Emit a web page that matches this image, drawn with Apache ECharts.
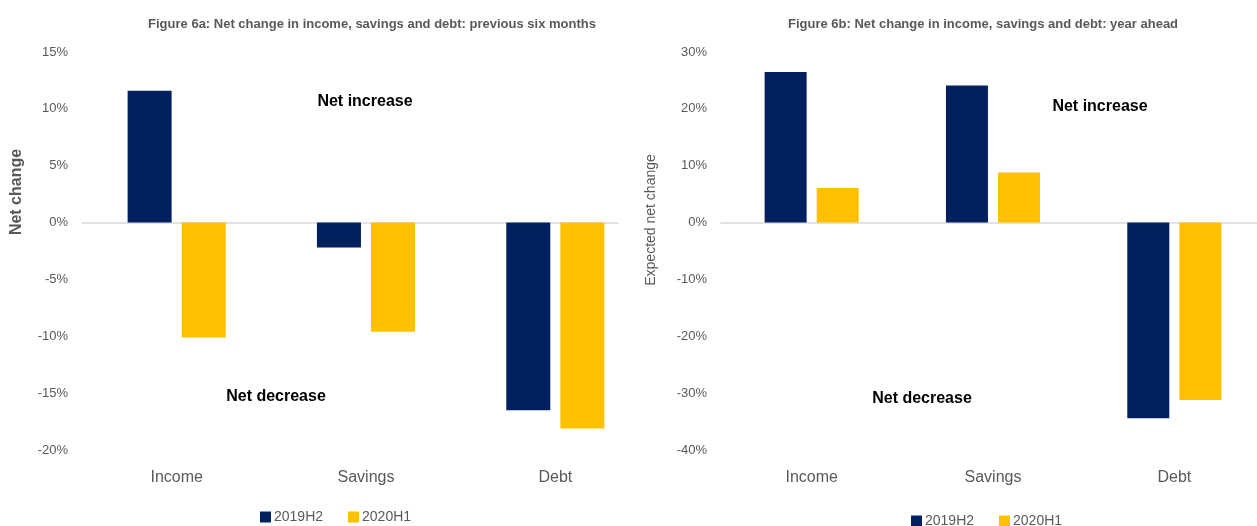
<!DOCTYPE html>
<html>
<head>
<meta charset="utf-8">
<script src="https://cdn.jsdelivr.net/npm/echarts@6/dist/echarts.min.js"></script>
<style>
  html, body { margin: 0; padding: 0; background: #ffffff; overflow: hidden; }
  /* the year-ahead panel's plot runs a little past the right edge of the page */
  #chart { width: 1270px; height: 526px; }
</style>
</head>
<body>
<div id="chart"></div>
<script>
// Categories and series
const categories = ['Income', 'Savings', 'Debt'];
const seriesNames = ['2019H2', '2020H1'];

// Figure 6a: net change over the previous six months (%)
const prevSixMonths2019H2 = [11.6, -2.2, -16.5];
const prevSixMonths2020H1 = [-10.1, -9.6, -18.1];

// Figure 6b: expected net change over the year ahead (%)
const yearAhead2019H2 = [26.5, 24.1, -34.4];
const yearAhead2020H1 = [6.1, 8.8, -31.2];

// Value axis ranges
const prevAxis = { min: -20, max: 15, interval: 5 };
const aheadAxis = { min: -40, max: 30, interval: 10 };

const NAVY = '#002060';
const GOLD = '#FFC000';
const GREY_TEXT = '#595959';
const FONT = "'Liberation Sans', Arial, sans-serif";

const chart = echarts.init(document.getElementById('chart'), null, { renderer: 'canvas' });

function valueAxis(gridIndex, range) {
  return {
    type: 'value', gridIndex,
    min: range.min, max: range.max, interval: range.interval,
    axisLine: { show: false }, axisTick: { show: false }, splitLine: { show: false },
    axisLabel: { formatter: '{value}%', color: GREY_TEXT, fontSize: 13, fontFamily: FONT, margin: 14 }
  };
}

function barSeries(name, data, axisIndex, width, gap) {
  return {
    name, type: 'bar', data,
    xAxisIndex: axisIndex, yAxisIndex: axisIndex,
    barWidth: width, barGap: gap,
    itemStyle: { color: name === seriesNames[0] ? NAVY : GOLD },
    emphasis: { disabled: true }
  };
}

function note(text, x, y, opts) {
  return {
    type: 'text', x, y, rotation: (opts && opts.rotation) || 0,
    style: {
      text, x: 0, y: 0, align: 'center', verticalAlign: 'middle',
      font: ((opts && opts.font) || 'bold 16px') + ' ' + FONT,
      fill: (opts && opts.fill) || '#000000'
    },
    silent: true
  };
}

const legendBase = {
  data: seriesNames, icon: 'rect', itemWidth: 11, itemHeight: 11, itemGap: 25,
  textStyle: { color: GREY_TEXT, fontSize: 14, fontFamily: FONT, padding: [0, 0, 0, -2] },
  selectedMode: false
};

chart.setOption({
  animation: false,
  backgroundColor: '#ffffff',
  textStyle: { fontFamily: FONT },
  title: [
    { text: 'Figure 6a: Net change in income, savings and debt: previous six months',
      left: 367, top: 13, textAlign: 'center',
      textStyle: { color: GREY_TEXT, fontSize: 13, fontWeight: 'bold', fontFamily: FONT } },
    { text: 'Figure 6b: Net change in income, savings and debt: year ahead',
      left: 978, top: 13, textAlign: 'center',
      textStyle: { color: GREY_TEXT, fontSize: 13, fontWeight: 'bold', fontFamily: FONT } }
  ],
  legend: [
    Object.assign({ left: 255, top: 505 }, legendBase),
    Object.assign({ left: 906, top: 509 }, legendBase)
  ],
  grid: [
    { left: 82, top: 52, width: 568, height: 398 },
    { left: 721, top: 52, width: 544, height: 398 },
    // zero line of Figure 6a, which stops short of Figure 6b
    { left: 82, top: 52, width: 536, height: 398 }
  ],
  xAxis: [
    { type: 'category', gridIndex: 0, data: categories,
      axisLine: { show: false }, axisTick: { show: false },
      axisLabel: { color: GREY_TEXT, fontSize: 16, fontFamily: FONT, margin: 20 } },
    { type: 'category', gridIndex: 1, data: categories,
      axisLine: { show: true, onZero: true, lineStyle: { color: '#d9d9d9', width: 1.5 } },
      axisTick: { show: false },
      axisLabel: { color: GREY_TEXT, fontSize: 16, fontFamily: FONT, margin: 20 } },
    { type: 'category', gridIndex: 2, data: categories,
      axisLine: { show: true, onZero: true, lineStyle: { color: '#d9d9d9', width: 1.5 } },
      axisTick: { show: false }, axisLabel: { show: false } }
  ],
  yAxis: [
    valueAxis(0, prevAxis),
    valueAxis(1, aheadAxis),
    Object.assign(valueAxis(2, prevAxis), { show: false })
  ],
  series: [
    barSeries(seriesNames[0], prevSixMonths2019H2, 0, 44, '23%'),
    barSeries(seriesNames[1], prevSixMonths2020H1, 0, 44, '23%'),
    barSeries(seriesNames[0], yearAhead2019H2, 1, 42, '24%'),
    barSeries(seriesNames[1], yearAhead2020H1, 1, 42, '24%')
  ],
  graphic: [
    note('Net increase', 365, 102),
    note('Net decrease', 276, 397),
    note('Net increase', 1100, 107),
    note('Net decrease', 922, 399),
    note('Net change', 17, 192, { rotation: Math.PI / 2, font: 'bold 16px', fill: GREY_TEXT }),
    note('Expected net change', 651, 220, { rotation: Math.PI / 2, font: '14px', fill: GREY_TEXT })
  ]
});
</script>
</body>
</html>
